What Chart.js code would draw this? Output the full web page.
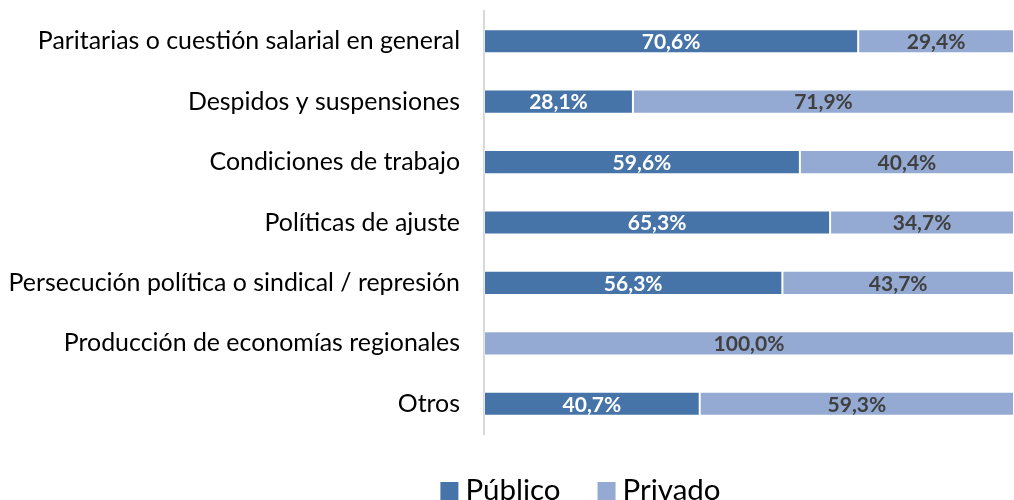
<!DOCTYPE html>
<html><head><meta charset="utf-8">
<script src="https://cdn.jsdelivr.net/npm/chart.js@4/dist/chart.umd.min.js"></script>
<style>html,body{margin:0;padding:0;background:#fff;overflow:hidden;}#wrap{width:1014px;height:500px;}</style>
</head><body><div id="wrap"><canvas id="c" width="1014" height="500"></canvas></div>
<script>
const categories = [
  "Paritarias o cuestión salarial en general",
  "Despidos y suspensiones",
  "Condiciones de trabajo",
  "Políticas de ajuste",
  "Persecución política o sindical / represión",
  "Producción de economías regionales",
  "Otros"
];
const publico = [70.6, 28.1, 59.6, 65.3, 56.3, 0, 40.7];
const privado = [29.4, 71.9, 40.4, 34.7, 43.7, 100.0, 59.3];
const seriesNames = ["Público", "Privado"];
const seriesColors = ['#4674A8', '#95AAD2'];

const FONT = "Lato, 'Open Sans', sans-serif";

const labelPlugin = {
  id: 'segLabels',
  afterDatasetsDraw(chart) {
    const ctx = chart.ctx;
    ctx.save();
    ctx.font = "bold 21px " + FONT;
    ctx.textAlign = 'center';
    ctx.textBaseline = 'middle';
    chart.data.datasets.forEach((ds, di) => {
      const meta = chart.getDatasetMeta(di);
      meta.data.forEach((el, i) => {
        const v = ds.data[i];
        if (!v) return;
        const cx = (el.x + el.base) / 2;
        ctx.fillStyle = di === 0 ? '#ffffff' : '#404040';
        ctx.fillText(v.toFixed(1).replace('.', ',') + '%', cx, el.y + 1);
      });
    });
    ctx.restore();
  }
};

// Custom legend (drawn below the plot, partly clipped like the reference)
const legendPlugin = {
  id: 'customLegend',
  afterDraw(chart) {
    const ctx = chart.ctx;
    ctx.save();
    ctx.font = "29.5px " + FONT;
    ctx.textBaseline = 'alphabetic';
    ctx.textAlign = 'left';
    const box = 18, gap = 7, itemGap = 37;
    const items = chart.data.datasets.map(d => ({ text: d.label, color: d.backgroundColor, w: ctx.measureText(d.label).width }));
    const total = items.reduce((s, it) => s + box + gap + it.w, 0) + itemGap * (items.length - 1);
    let x = 580.5 - total / 2;
    const boxTop = 482, baseline = 500;
    items.forEach(it => {
      ctx.fillStyle = it.color;
      ctx.fillRect(x, boxTop, box, box);
      x += box + gap;
      ctx.fillStyle = '#000000';
      ctx.fillText(it.text, x, baseline);
      x += it.w + itemGap;
    });
    ctx.restore();
  }
};

new Chart(document.getElementById('c'), {
  type: 'bar',
  data: {
    labels: categories,
    datasets: [
      { label: seriesNames[0], data: publico, backgroundColor: seriesColors[0],
        borderWidth: 1, borderColor: 'rgba(255,255,255,0.3)', borderSkipped: false,
        categoryPercentage: 0.8, barPercentage: 0.5 },
      { label: seriesNames[1], data: privado, backgroundColor: seriesColors[1],
        borderWidth: 1, borderColor: 'rgba(255,255,255,0.3)', borderSkipped: false,
        categoryPercentage: 0.8, barPercentage: 0.5 }
    ]
  },
  options: {
    indexAxis: 'y',
    responsive: false,
    animation: false,
    layout: { padding: { top: 11, right: 0, left: 0, bottom: 66 } },
    scales: {
      x: { stacked: true, min: 0, max: 100, display: false },
      y: {
        stacked: true,
        grid: { display: false, drawTicks: false },
        border: { display: true, color: '#D9D9D9', width: 2 },
        ticks: { color: '#000000', font: { family: FONT, size: 24.9 }, padding: 24, autoSkip: false },
        afterFit(scale) { scale.width = 484; scale.paddingTop = 0; scale.paddingBottom = 0; }
      }
    },
    plugins: {
      legend: { display: false },
      tooltip: { enabled: false }
    }
  },
  plugins: [labelPlugin, legendPlugin]
});
</script>
</body></html>
